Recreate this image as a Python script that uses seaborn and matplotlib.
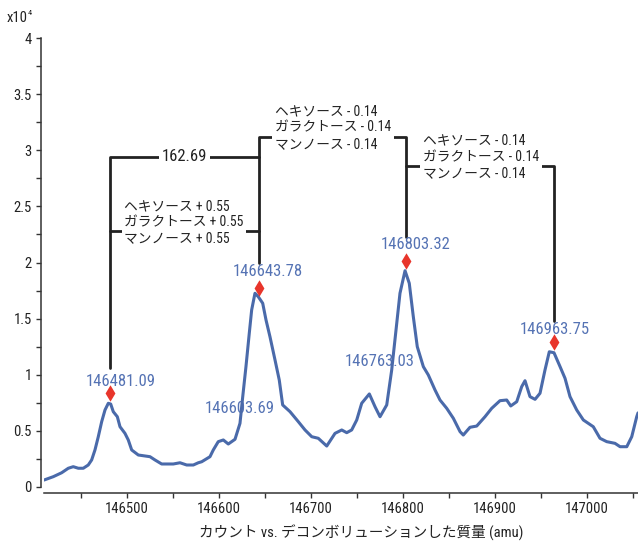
import pandas as pd
import seaborn as sns
import matplotlib.pyplot as plt
from matplotlib import font_manager
from matplotlib.ticker import MultipleLocator, FuncFormatter

# deconvoluted spectrum, mass (amu) vs counts (x10^4)
mass = [146409.8, 146419.9, 146429.0, 146436.2, 146441.6, 146447.1, 146452.5,
        146457.9, 146461.6, 146465.2, 146468.8, 146472.5, 146476.1, 146479.7,
        146482.3, 146485.1, 146489.5, 146492.4, 146497.8, 146501.4, 146505.1,
        146512.3, 146525.0, 146530.4, 146537.7, 146550.3, 146557.6, 146564.9,
        146572.1, 146577.5, 146581.2, 146590.2, 146593.8, 146599.2, 146604.7,
        146610.1, 146617.4, 146622.8, 146625.8, 146629.3, 146632.9, 146635.5,
        146639.1, 146642.7, 146647.5, 146651.1, 146655.4, 146660.9, 146665.5,
        146669.2, 146677.2, 146686.2, 146693.5, 146700.8, 146707.9, 146717.1,
        146726.1, 146733.4, 146738.8, 146744.2, 146749.7, 146755.1, 146763.4,
        146769.6, 146775.0, 146782.3, 146787.7, 146792.4, 146796.7, 146802.2,
        146806.8, 146811.2, 146815.5, 146822.1, 146827.5, 146834.8, 146840.2,
        146847.5, 146854.7, 146862.0, 146865.5, 146872.8, 146880.1, 146889.1,
        146896.4, 146905.4, 146912.7, 146917.1, 146923.6, 146929.0, 146932.6,
        146938.0, 146943.5, 146948.9, 146954.3, 146959.0, 146964.1, 146970.7,
        146976.1, 146981.5, 146988.8, 146996.0, 147006.8, 147014.1, 147021.4,
        147030.4, 147035.9, 147043.2, 147048.6, 147054.0, 147055.4]
counts = [0.062, 0.092, 0.127, 0.167, 0.181, 0.167, 0.167,
          0.196, 0.241, 0.330, 0.448, 0.582, 0.686, 0.746,
          0.739, 0.671, 0.626, 0.537, 0.478, 0.419, 0.330,
          0.285, 0.270, 0.241, 0.205, 0.205, 0.216, 0.196,
          0.196, 0.216, 0.225, 0.270, 0.330, 0.404, 0.419,
          0.383, 0.425, 0.567, 0.805, 1.072, 1.369, 1.577,
          1.726, 1.695, 1.637, 1.488, 1.339, 1.131, 0.953,
          0.731, 0.671, 0.582, 0.508, 0.448, 0.434, 0.365,
          0.478, 0.508, 0.484, 0.508, 0.597, 0.746, 0.829,
          0.715, 0.626, 0.731, 1.042, 1.399, 1.726, 1.927,
          1.815, 1.517, 1.250, 1.072, 0.998, 0.864, 0.775,
          0.701, 0.612, 0.493, 0.463, 0.532, 0.543, 0.626,
          0.701, 0.769, 0.775, 0.722, 0.760, 0.894, 0.947,
          0.805, 0.781, 0.835, 1.042, 1.205, 1.196, 1.072,
          0.968, 0.805, 0.686, 0.597, 0.537, 0.434, 0.404,
          0.389, 0.359, 0.359, 0.448, 0.626, 0.660]

# labelled peaks (diamond markers)
peak_mass = [146481.09, 146643.78, 146803.32, 146963.75]
peak_height = [0.84, 1.77, 2.01, 1.29]
peak_text = ["146481.09", "146643.78", "146803.32", "146963.75"]
# shoulder labels
shoulder_mass = [146603.69, 146763.03]
shoulder_text = ["146603.69", "146763.03"]

# bracket annotations between peaks
gap_text = "162.69"
glycan_text = ["ヘキソース + 0.55\nガラクトース + 0.55\nマンノース + 0.55",
               "ヘキソース - 0.14\nガラクトース - 0.14\nマンノース - 0.14",
               "ヘキソース - 0.14\nガラクトース - 0.14\nマンノース - 0.14"]

sns.set_theme(style="ticks")
names = {f.name for f in font_manager.fontManager.ttflist}
narrow = "DejaVu Sans"
for cand in ["Liberation Sans Narrow", "Roboto Condensed", "Open Sans Condensed"]:
    if cand in names:
        narrow = cand
        break
if narrow == "DejaVu Sans":
    plt.rcParams["font.stretch"] = "condensed"
plt.rcParams["font.family"] = [narrow, "Noto Sans CJK JP"]

blue = "#4a6aaa"
label_blue = "#5573b4"
red = "#e8352b"
dark = "#222222"
num_size = 12

fig = plt.figure(figsize=(6.38, 5.44), dpi=100)
ax = fig.add_axes([44 / 638, 57 / 544, 594 / 638, 449 / 544])

df = pd.DataFrame({"mass": mass, "counts": counts})
sns.lineplot(data=df, x="mass", y="counts", color=blue, linewidth=2.2,
             ax=ax, zorder=5)
sns.scatterplot(x=peak_mass, y=peak_height, marker="d", s=70, color=red,
                edgecolor=red, linewidth=0, ax=ax, zorder=6)

# peak labels (nudged above/right of each marker)
label_dx = [12, 9, 10, 1]
label_dy = [0.10, 0.15, 0.15, 0.11]
for m, h, t, dx, dy in zip(peak_mass, peak_height, peak_text, label_dx, label_dy):
    ax.text(m + dx, h + dy, t, color=label_blue, fontsize=num_size,
            ha="center", va="center", zorder=4)
ax.text(shoulder_mass[0] + 19, 0.70, shoulder_text[0], color=label_blue,
        fontsize=num_size, ha="center", va="center", zorder=4)
ax.text(shoulder_mass[1] + 12, 1.12, shoulder_text[1], color=label_blue,
        fontsize=num_size, ha="center", va="center", zorder=4)

# brackets
lw = 2.0
p0, p1, p2, p3 = peak_mass
ax.plot([p0, p0, p1, p1], [1.06, 2.94, 2.94, 2.00], color=dark, lw=lw, zorder=2)
ax.plot([p0, p1], [2.28, 2.28], color=dark, lw=lw, zorder=2)
ax.plot([p1, p1, p2, p2], [2.94, 3.12, 3.12, 2.23], color=dark, lw=lw, zorder=2)
ax.plot([p2, p2, p3, p3], [2.86, 2.86, 2.86, 1.48], color=dark, lw=lw, zorder=2)

box = dict(facecolor="white", edgecolor="none", pad=2)
ax.text((p0 + p1) / 2, 2.94, gap_text, fontsize=num_size, color=dark,
        ha="center", va="center", bbox=box, zorder=3)
ax.text(p0 + 16, 2.36, glycan_text[0], fontsize=9.9, color=dark,
        ha="left", va="center", linespacing=1.2, bbox=box, zorder=3)
ax.text(p1 + 17, 3.20, glycan_text[1], fontsize=9.9, color=dark,
        ha="left", va="center", linespacing=1.2, bbox=box, zorder=3)
ax.text(p2 + 18, 2.94, glycan_text[2], fontsize=9.9, color=dark,
        ha="left", va="center", linespacing=1.2, bbox=box, zorder=3)

# axes
ax.set_xlim(146409.8, 147055.4)
ax.set_ylim(0, 4)
ax.xaxis.set_major_locator(MultipleLocator(100))
ax.xaxis.set_minor_locator(MultipleLocator(50))
ax.yaxis.set_major_locator(MultipleLocator(0.5))
ax.yaxis.set_minor_locator(MultipleLocator(0.25))
ax.yaxis.set_major_formatter(FuncFormatter(lambda v, _: f"{v:g}"))
ax.xaxis.set_major_formatter(FuncFormatter(lambda v, _: f"{v:.0f}"))
ax.tick_params(which="both", direction="out", length=3.5, width=1.0,
               color="#333333", labelsize=10.5, labelcolor=dark, pad=3)
sns.despine(ax=ax)
ax.spines["left"].set_position(("outward", 2.2))
ax.spines["bottom"].set_position(("outward", 4.3))
for s in ("left", "bottom"):
    ax.spines[s].set_color("#333333")
    ax.spines[s].set_linewidth(1.1)

ax.set_xlabel("カウント vs. デコンボリューションした質量 (amu)", fontsize=10.5,
              color=dark)
ax.xaxis.set_label_coords(0.534, -0.085)
ax.set_ylabel("")
fig.text(7 / 638, 1 - 18 / 544, "x10", fontsize=10.5, color=dark,
         ha="left", va="center")
fig.text(27.5 / 638, 1 - 13 / 544, "4", fontsize=6, color=dark,
         ha="left", va="center")

fig.savefig("out.png", dpi=100)
